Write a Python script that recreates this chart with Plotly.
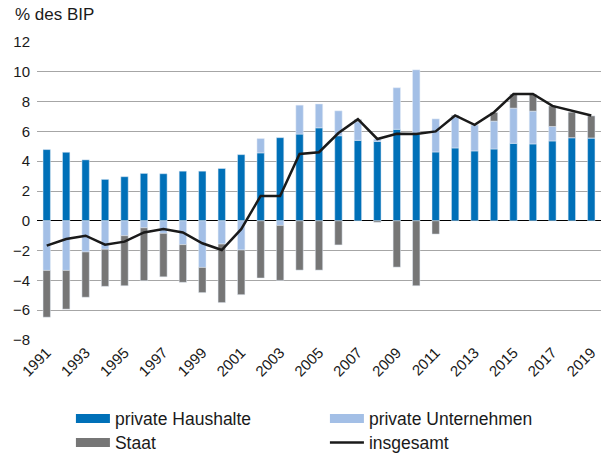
import plotly.graph_objects as go

years = list(range(1991, 2020))
haushalte = [4.78, 4.60, 4.09, 2.78, 2.96, 3.18, 3.16, 3.33, 3.33, 3.51,
             4.44, 4.56, 5.58, 5.82, 6.24, 5.71, 5.40, 5.33, 6.14, 5.82,
             4.62, 4.89, 4.69, 4.82, 5.20, 5.16, 5.36, 5.58, 5.56]
unternehmen = [-3.33, -3.33, -2.09, -1.91, -1.00, -0.47, -0.84, -1.60, -3.13, -1.56,
               -1.96, 0.96, -0.31, 1.94, 1.60, 1.67, 1.25, 0.15, 2.79, 4.31,
               2.22, 2.09, 1.75, 1.87, 2.36, 2.20, 0.97, 0.0, 0.0]
staat = [-3.14, -2.60, -3.04, -2.49, -3.36, -3.55, -2.92, -2.53, -1.69, -3.93,
         -3.00, -3.84, -3.69, -3.31, -3.31, -1.62, 0.15, -0.10, -3.11, -4.36,
         -0.89, 0.10, 0.0, 0.58, 0.93, 1.13, 1.38, 1.71, 1.48]
insgesamt = [-1.67, -1.22, -1.00, -1.60, -1.40, -0.78, -0.56, -0.78, -1.51, -1.96,
             -0.56, 1.67, 1.67, 4.49, 4.60, 5.89, 6.82, 5.49, 5.84, 5.82,
             6.00, 7.07, 6.44, 7.29, 8.51, 8.51, 7.71, 7.38, 7.07]

colors = {"private Haushalte": "#0070b8", "private Unternehmen": "#a3bfe6",
          "Staat": "#767676", "insgesamt": "#1a1a1a"}
# which legend row each entry sits in
legend_rows = {"private Haushalte": "legend", "private Unternehmen": "legend",
               "Staat": "legend2", "insgesamt": "legend2"}
font = "Liberation Sans, Arial, sans-serif"

fig = go.Figure()
for name, values in [("private Haushalte", haushalte),
                     ("private Unternehmen", unternehmen),
                     ("Staat", staat)]:
    fig.add_bar(x=years, y=values, name=name, marker_color=colors[name],
                showlegend=False)
fig.add_scatter(x=years, y=insgesamt, name="insgesamt", mode="lines",
                line=dict(color=colors["insgesamt"], width=2.5), showlegend=False)

# legend proxies: wide rectangular swatches like the original
for name in colors:
    fig.add_scatter(x=[None], y=[None], mode="lines", name=name,
                    legend=legend_rows[name],
                    line=dict(color=colors[name], width=2.5 if name == "insgesamt" else 9))

legend_style = dict(
    orientation="h",
    xref="container",
    yref="container",
    x=0.118,
    xanchor="left",
    yanchor="middle",
    entrywidth=205,
    itemwidth=34,
    traceorder="normal",
    font=dict(size=17.5),
    bgcolor="rgba(0,0,0,0)",
)

fig.update_layout(
    width=601,
    height=455,
    barmode="relative",
    bargap=0.62,
    plot_bgcolor="white",
    paper_bgcolor="white",
    font=dict(family=font, size=15, color="#1a1a1a"),
    margin=dict(l=37, r=0, t=42, b=115),
    legend=dict(legend_style, y=1 - 418.5 / 455),
    legend2=dict(legend_style, y=1 - 442.5 / 455),
    annotations=[
        dict(text="% des BIP", xref="paper", yref="paper", x=-0.043, y=1.055,
             xanchor="left", yanchor="bottom", showarrow=False, font=dict(size=17)),
    ],
)

fig.update_xaxes(
    range=[1990.5, 2019.5],
    tickmode="linear",
    tick0=1991,
    dtick=2,
    tickangle=-45,
    showgrid=False,
    showline=False,
    ticks="",
    tickfont=dict(size=15),
)
fig.update_yaxes(
    range=[-8, 12],
    dtick=2,
    showgrid=True,
    gridcolor="#a6a6a6",
    gridwidth=1.3,
    zeroline=True,
    zerolinecolor="#000000",
    zerolinewidth=1.3,
    ticks="",
    ticklabelstandoff=6,
    tickfont=dict(size=15),
)

fig.write_html("out.html", config={"displayModeBar": False},
               post_script="document.body.style.margin='0';")
